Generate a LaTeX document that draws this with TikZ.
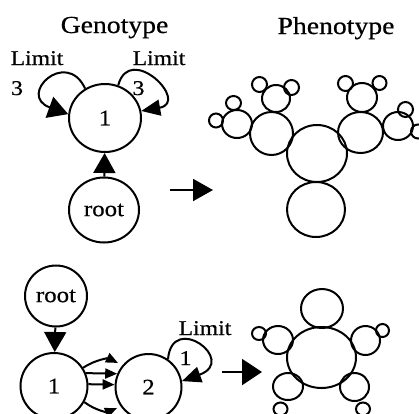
\documentclass[tikz,border=0pt]{standalone}
\usepackage{fontspec}
\setmainfont{Liberation Serif}[FakeBold=0.5]
\usetikzlibrary{arrows.meta,shapes.geometric}
\newcommand{\hstretch}[1]{\scalebox{1.13}[1]{#1}}
\begin{document}
\begin{tikzpicture}[x=1pt,y=1pt,line width=2pt,
  gnode/.style={draw, ellipse, inner sep=0pt, font=\fontsize{22}{22}\selectfont},
  bigarr/.style={-{Triangle[length=20pt,width=22pt]}},
  medarr/.style={-{Triangle[length=19pt,width=16pt]}},
  smallarr/.style={-{Triangle[length=12pt,width=10pt]}},
  lbl/.style={font=\fontsize{21}{21}\selectfont, anchor=base, inner sep=0pt},
  head/.style={font=\fontsize{24.5}{24.5}\selectfont, anchor=base, inner sep=0pt}]
\useasboundingbox (0,0) rectangle (419,-413);

% ---------- top: genotype ----------
\node[head] (hg) at (114.5,-33) {\hstretch{Genotype}};
\node[head] (hp) at (336,-34) {\hstretch{Phenotype}};

\node[gnode, minimum width=72pt, minimum height=68pt] (n1t) at (105,-118) {\hstretch{1}};
\node[gnode, minimum width=70pt, minimum height=65pt] (r1) at (104,-210) {\hstretch{root}};
\draw[bigarr] (r1) -- (n1t);

\draw[bigarr] (n1t.124) .. controls +(115:45) and +(160:55) .. (n1t.174);
\draw[medarr] (n1t.68) .. controls +(75:45) and +(10:50) .. (n1t.11);

\node[lbl] (lim1) at (37,-65) {\hstretch{Limit}};
\node[lbl] (th1) at (17,-95) {\hstretch{3}};
\node[lbl] (lim2) at (159,-65) {\hstretch{Limit}};
\node[lbl] (th2) at (138.5,-95) {\hstretch{3}};

\coordinate (a1s) at (170,-190);
\coordinate (a1e) at (213,-190);
\draw[bigarr] (a1s) -- (a1e);

% ---------- top: phenotype ----------
\draw (317,-153.5) ellipse [x radius=30pt, y radius=28.5pt];
\draw (316,-209.5) ellipse [x radius=29pt, y radius=27.5pt];
\draw (271.5,-133.5) ellipse [x radius=21.5pt, y radius=21.5pt];
\draw (360.5,-132.5) ellipse [x radius=22.5pt, y radius=20.5pt];
\draw (276,-98.5) ellipse [x radius=14pt, y radius=13.5pt];
\draw (259.5,-84.5) ellipse [x radius=7.5pt, y radius=7.5pt];
\draw (291.5,-87.5) ellipse [x radius=7.5pt, y radius=7.5pt];
\draw (237,-124) ellipse [x radius=15pt, y radius=14pt];
\draw (233.5,-103) ellipse [x radius=7.5pt, y radius=7pt];
\draw (216,-120.5) ellipse [x radius=7pt, y radius=7pt];
\draw (362,-97.5) ellipse [x radius=15pt, y radius=14.5pt];
\draw (345.5,-83.5) ellipse [x radius=7.5pt, y radius=7.5pt];
\draw (379.5,-83) ellipse [x radius=7pt, y radius=7pt];
\draw (398,-126) ellipse [x radius=15pt, y radius=14pt];
\draw (405.5,-109.5) ellipse [x radius=7.5pt, y radius=7.5pt];
\draw (418,-131.5) ellipse [x radius=7pt, y radius=7pt];

% ---------- bottom: genotype ----------
\node[gnode, minimum width=62pt, minimum height=61pt] (r2) at (56,-296) {\hstretch{root}};
\node[gnode, minimum width=67pt, minimum height=66pt] (n1b) at (54,-386) {\hstretch{1}};
\node[gnode, minimum width=66pt, minimum height=66pt] (n2b) at (148.5,-387) {\hstretch{2}};
\draw[bigarr] (r2) -- (n1b);

\draw[smallarr, shorten >=5pt] (n1b.32) to[bend left=30] (n2b.140);
\draw[smallarr] (n1b.22) -- (n2b.157);
\draw[smallarr] (n1b.3) -- (n2b.176);
\draw[smallarr, shorten >=4pt] (n1b.-28) to[bend right=30] (n2b.-145);

\draw[medarr] (n2b.55) .. controls +(85:48) and +(20:60) .. (n2b.10);
\node[lbl] (lim3) at (205,-335) {\hstretch{Limit}};
\node[lbl] (one3) at (185.5,-365) {\hstretch{1}};

\coordinate (a2s) at (222,-372);
\coordinate (a2e) at (262,-372);
\draw[-{Triangle[length=20pt,width=26pt]}] (a2s) -- (a2e);

% ---------- bottom: phenotype ----------
\draw (321.5,-357.5) ellipse [x radius=34.5pt, y radius=30.5pt];
\draw (322,-308.5) ellipse [x radius=21pt, y radius=19.5pt];
\draw (278,-340) ellipse [x radius=15pt, y radius=14pt];
\draw (259,-333.5) ellipse [x radius=7pt, y radius=6.5pt];
\draw (365.5,-340.5) ellipse [x radius=14.5pt, y radius=14.5pt];
\draw (382.5,-330.5) ellipse [x radius=6.5pt, y radius=6.5pt];
\draw (288,-386.5) ellipse [x radius=15pt, y radius=13.5pt];
\draw (280.5,-409) ellipse [x radius=7pt, y radius=6.5pt];
\draw (354.5,-387) ellipse [x radius=14.5pt, y radius=14pt];
\draw (363,-409) ellipse [x radius=7pt, y radius=6.5pt];
\end{tikzpicture}
\end{document}
